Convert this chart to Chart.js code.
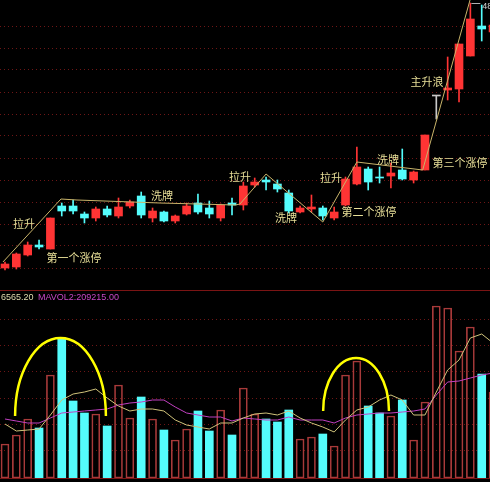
<!DOCTYPE html>
<html>
<head>
<meta charset="utf-8">
<script src="https://cdn.jsdelivr.net/npm/chart.js@4/dist/chart.umd.min.js"></script>
<style>
  html, body { margin:0; padding:0; background:#000; overflow:hidden; }
  #wrap { position:relative; width:490px; height:482px; background:#000; }
  #priceBox { position:absolute; left:0; top:0; width:490px; height:290px; }
  #volBox { position:absolute; left:0; top:291px; width:490px; height:187px; }
  .sep { position:absolute; left:0; width:490px; height:1px; background:#7a1414; }
</style>
</head>
<body>
<div id="wrap">
  <div id="priceBox"><canvas id="price"></canvas></div>
  <div class="sep" style="top:290px"></div>
  <div id="volBox"><canvas id="vol"></canvas></div>
  <div class="sep" style="top:478px"></div>
</div>
<script>
// daily candles (price)
const opens  = [22.4,22.5,23.7,24.7,24.3,28.6,28.6,27.8,27.4,28.3,27.6,28.6,29.6,27.4,28.0,27.1,27.8,28.9,28.4,27.4,28.9,28.7,30.7,31.2,30.8,29.9,28.0,28.3,28.4,27.4,28.7,30.8,32.3,31.5,31.6,32.2,31.2,32.2,39.6,40.2,40.3,43.6,46.6,46.0];
const highs  = [23.0,23.9,25.0,25.2,27.4,28.9,29.2,28.0,28.5,28.6,29.4,29.2,30.0,28.4,28.1,27.7,28.9,29.8,29.1,28.8,29.4,31.0,31.4,31.5,31.2,30.2,28.6,29.7,28.6,28.5,31.5,34.5,32.5,32.5,32.9,34.3,32.1,35.7,39.6,43.5,44.8,48.9,48.7,47.0];
const lows   = [22.2,22.3,23.6,24.3,24.3,27.6,27.8,26.9,27.1,27.5,27.4,28.4,27.4,27.0,27.0,26.9,27.7,27.8,27.4,27.1,27.7,28.2,30.5,30.2,30.0,27.9,27.9,28.0,27.2,27.2,28.6,30.7,30.2,30.9,30.4,31.2,30.9,32.2,37.3,39.2,39.0,43.6,45.1,45.8];
const closes = [22.8,23.8,24.7,24.5,27.4,28.1,28.1,27.4,28.3,27.7,28.5,29.0,27.7,28.1,27.1,27.6,28.6,28.0,27.8,28.7,28.7,30.6,31.0,31.0,30.3,28.1,28.4,28.5,27.6,28.0,31.3,32.5,31.0,31.4,31.9,31.3,32.0,35.7,39.6,40.4,44.8,47.3,46.3,46.7];

// volume and its two moving averages
const volumes = [68000,86000,118000,100000,206000,280000,154000,130000,128000,104000,186000,120000,162000,118000,96000,76000,98000,134000,94000,136000,86000,180000,128000,118000,112000,136000,78000,82000,88000,64000,206000,234000,144000,130000,124000,156000,76000,152000,344000,340000,254000,302000,208000,172000];
const mavol1 = [108000,94000,96000,98000,126000,156000,168000,172000,178000,160000,144000,134000,138000,138000,134000,116000,106000,102000,98000,110000,110000,120000,128000,130000,126000,134000,120000,110000,102000,92000,116000,136000,142000,156000,166000,156000,126000,126000,172000,216000,236000,280000,288000,270000];
const mavol2 = [118000,114000,110000,110000,120000,130000,132000,134000,136000,138000,146000,150000,152000,156000,156000,142000,130000,126000,122000,122000,114000,120000,118000,116000,116000,122000,116000,116000,116000,110000,120000,126000,128000,130000,130000,132000,134000,138000,166000,192000,194000,200000,206000,210000];

// hand-drawn trend line (day index, price)
const trendDays   = [0.82, 5.93, 7.34, 14.66, 21.3, 21.7, 24.0, 29.0, 32.0, 37.8, 41.97];
const trendPrices = [23.0, 29.3, 29.2, 28.9, 28.7, 28.8, 31.8, 27.0, 33.0, 32.2, 49.2];

// annotations (text, day index, price)
const noteTexts  = ['拉升','第一个涨停','洗牌','拉升','洗牌','拉升','第二个涨停','洗牌','第三个涨停','主升浪'];
const noteDays   = [2.67, 7.08, 14.83, 21.7, 25.76, 29.72, 33.07, 34.74, 41.09, 38.18];
const notePrices = [26.8, 23.4, 29.6, 31.5, 27.4, 31.4, 28.0, 33.2, 32.9, 41.0];

// hand-drawn arcs on the volume panel
const arcDays  = [5.89, 31.93];
const arcHalf  = [4.0, 2.9];
const arcBase  = [124000, 134000];
const arcTop   = [280000, 240000];

const priceGrid = [22.4,24.6,26.8,29.0,31.2,33.4,35.6,37.8,40.0,42.2,44.4,46.6];
const volGrid   = [56000,108000,160000,212000,264000,316000];
const headerVol = '6565.20';
const headerMa2 = 'MAVOL2:209215.00';

const days = opens.map((_, i) => i + 1);
const UP = '#ff3434', DOWN = '#54fcfc', FLAT = '#c8c8c8';
function tone(i){ return closes[i] > opens[i] ? UP : (closes[i] < opens[i] ? DOWN : FLAT); }
const X_MIN = 0.5595, X_MAX = 43.73;
const CJK = '"Noto Sans CJK SC", "Noto Sans", sans-serif';

Chart.defaults.animation = false;

function dayAxis(){ return { type:'linear', min:X_MIN, max:X_MAX, offset:false, display:false }; }

const priceNotes = {
  id:'priceNotes',
  afterDatasetsDraw(chart){
    const { ctx, scales:{ x, y } } = chart;
    ctx.save();
    ctx.font = '11px ' + CJK;
    ctx.fillStyle = '#e8df98';
    ctx.textAlign = 'center';
    ctx.textBaseline = 'middle';
    noteTexts.forEach((t, i) => ctx.fillText(t, x.getPixelForValue(noteDays[i]), y.getPixelForValue(notePrices[i])));
    // max price marker
    let k = 0;
    highs.forEach((h, i) => { if (h > highs[k]) k = i; });
    const px = x.getPixelForValue(days[k]), py = y.getPixelForValue(highs[k]);
    ctx.strokeStyle = '#b0b0b0'; ctx.lineWidth = 1;
    ctx.beginPath(); ctx.moveTo(px + 1, py + 0.5); ctx.lineTo(px + 10, py + 0.5); ctx.stroke();
    ctx.font = '9px "Liberation Sans", sans-serif';
    ctx.fillStyle = '#d0d0d0';
    ctx.textAlign = 'left';
    ctx.fillText(highs[k].toFixed(2), px + 12, py + 4);
    ctx.restore();
  }
};

new Chart(document.getElementById('price'), {
  type:'bar',
  data:{
    datasets:[
      { type:'line', data: trendDays.map((d, i) => ({ x:d, y:trendPrices[i] })), borderColor:'#c9b46a', borderWidth:1, pointRadius:0, tension:0, order:0, clip:false },
      { data: days.map((d, i) => ({ x:d, y:[opens[i], closes[i]] })), backgroundColor: days.map((_, i) => tone(i)), barThickness:8, minBarLength:1, grouped:false, order:1 },
      { data: days.map((d, i) => ({ x:d, y:[lows[i], highs[i]] })), backgroundColor: days.map((_, i) => tone(i)), barThickness:1, grouped:false, order:2 }
    ]
  },
  options:{
    responsive:true, maintainAspectRatio:false,
    layout:{ padding:0 },
    plugins:{ legend:{ display:false }, tooltip:{ enabled:false } },
    scales:{
      x: dayAxis(),
      y: { min:20.2, max:49.2,
           afterBuildTicks: s => { s.ticks = priceGrid.map(v => ({ value:v })); },
           ticks:{ display:false },
           grid:{ color:'#6e1616', drawTicks:false, lineWidth:1 },
           border:{ display:false, dash:[1,3] } }
    }
  },
  plugins:[priceNotes]
});

const volNotes = {
  id:'volNotes',
  afterDatasetsDraw(chart){
    const { ctx, scales:{ x, y } } = chart;
    ctx.save();
    ctx.strokeStyle = '#ffff00';
    ctx.lineWidth = 2.5;
    arcDays.forEach((d, i) => {
      const cx = x.getPixelForValue(d), cy = y.getPixelForValue(arcBase[i]);
      const rx = x.getPixelForValue(d + arcHalf[i]) - cx;
      const ry = cy - y.getPixelForValue(arcTop[i]);
      ctx.beginPath(); ctx.ellipse(cx, cy, rx, ry, 0, Math.PI, 2 * Math.PI); ctx.stroke();
    });
    ctx.font = '9px "Liberation Sans", sans-serif';
    ctx.textBaseline = 'middle';
    ctx.fillStyle = '#e0dcb0';
    ctx.fillText(headerVol, 1, 6.5);
    ctx.fillStyle = '#c848c8';
    ctx.fillText(headerMa2, 38, 6.5);
    ctx.restore();
  }
};

new Chart(document.getElementById('vol'), {
  type:'bar',
  data:{
    datasets:[
      { type:'line', data: days.map((d, i) => ({ x:d, y:mavol1[i] })), borderColor:'#cfc27a', borderWidth:1, pointRadius:0, tension:0, order:0 },
      { type:'line', data: days.map((d, i) => ({ x:d, y:mavol2[i] })), borderColor:'#c040c0', borderWidth:1, pointRadius:0, tension:0, order:0 },
      { data: days.map((d, i) => ({ x:d, y:volumes[i] })),
        backgroundColor: days.map((_, i) => closes[i] >= opens[i] ? 'rgba(0,0,0,0)' : DOWN),
        borderColor: days.map((_, i) => closes[i] >= opens[i] ? '#a83a3a' : DOWN),
        borderWidth: days.map((_, i) => closes[i] >= opens[i] ? 1 : 0),
        borderSkipped:false, barThickness:8, grouped:false, order:1 }
    ]
  },
  options:{
    responsive:true, maintainAspectRatio:false,
    layout:{ padding:0 },
    plugins:{ legend:{ display:false }, tooltip:{ enabled:false } },
    scales:{
      x: dayAxis(),
      y: { min:0, max:374000,
           afterBuildTicks: s => { s.ticks = volGrid.map(v => ({ value:v })); },
           ticks:{ display:false },
           grid:{ color:'#6e1616', drawTicks:false, lineWidth:1 },
           border:{ display:false, dash:[1,3] } }
    }
  },
  plugins:[volNotes]
});
</script>
</body>
</html>
